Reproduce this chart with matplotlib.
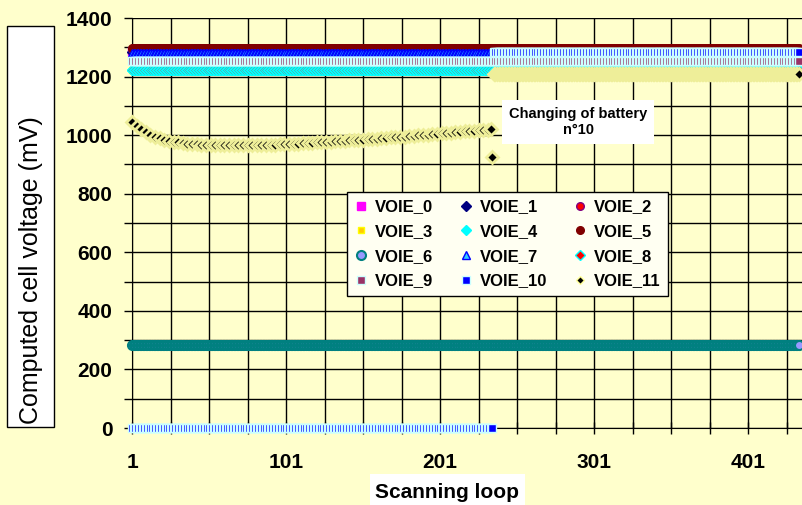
import numpy as np
import matplotlib
matplotlib.use("Agg")
import matplotlib.pyplot as plt
from matplotlib.patches import Rectangle

plt.rcParams['font.family'] = ['Liberation Sans', 'DejaVu Sans']

# ---- data ----
n_loops = 434            # scanning loops shown
change_loop = 235        # last loop before battery n°10 was changed

series_names = ["VOIE_0", "VOIE_1", "VOIE_2", "VOIE_3", "VOIE_4", "VOIE_5",
                "VOIE_6", "VOIE_7", "VOIE_8", "VOIE_9", "VOIE_10", "VOIE_11"]

# cells that stay flat over the whole run (mV)
flat_levels = {
    "VOIE_0": 1288, "VOIE_1": 1284, "VOIE_2": 1294, "VOIE_3": 1222,
    "VOIE_4": 1222, "VOIE_5": 1298, "VOIE_6": 285, "VOIE_7": 1282,
    "VOIE_8": 1224, "VOIE_9": 1253,
}

# VOIE_10: missing before the change, then the new battery
voie10_before = 0
voie10_after = 1284

# VOIE_11: drifting cell, read every 3 loops from loop 1 to 232
voie11_curve = [1045, 1032, 1020, 1010, 1002, 995, 989, 984, 980, 977,
                975, 973, 971, 970, 969, 968, 967, 967, 966, 966,
                966, 966, 966, 966, 966, 966, 966, 967, 967, 967,
                968, 968, 969, 969, 970, 971, 971, 972, 973, 974,
                975, 976, 977, 978, 979, 980, 981, 982, 983, 984,
                985, 986, 987, 988, 989, 990, 992, 993, 994, 995,
                997, 998, 999, 1000, 1002, 1003, 1004, 1006, 1007, 1009,
                1010, 1011, 1013, 1014, 1015, 1016, 1018, 1019]
voie11_tail_loops = [234, 235]
voie11_tail = [1020, 925]
voie11_after = 1210

# marker styles (marker, face, edge, size, edge width)
styles = {
    "VOIE_0": ("s", "#FF00FF", "#FF00FF", 5.5, 1.0),
    "VOIE_1": ("D", "#000080", "#000080", 5.0, 1.0),
    "VOIE_2": ("o", "#FF0000", "#800080", 5.5, 1.0),
    "VOIE_3": ("s", "#FFCC00", "#FFFF00", 5.0, 1.0),
    "VOIE_4": ("D", "#00FFFF", "#00FFFF", 5.0, 1.0),
    "VOIE_5": ("o", "#800000", "#800000", 5.5, 1.0),
    "VOIE_6": ("o", "#9999FF", "#008080", 6.5, 1.5),
    "VOIE_7": ("^", "#33CCFF", "#0000FF", 6.0, 1.0),
    "VOIE_8": ("D", "#FF0000", "#00FFFF", 5.0, 1.0),
    "VOIE_9": ("s", "#993366", "#CCFFFF", 5.5, 1.0),
    "VOIE_10": ("s", "#0000FF", "#CCFFFF", 5.5, 1.0),
    "VOIE_11": ("D", "#000000", "#EEEE99", 6.5, 2.0),
}

bg = "#FFFFCC"
W, H = 802, 505

fig = plt.figure(figsize=(W / 100, H / 100), dpi=100, facecolor=bg)
ax = fig.add_axes([132 / W, (H - 428) / H, (W - 132) / W, 410 / H])
ax.set_facecolor(bg)

loops = np.arange(1, n_loops + 1)
handles = {}
for z, name in enumerate(series_names):
    mk, fc, ec, ms, mew = styles[name]
    kw = dict(linestyle="none", marker=mk, markerfacecolor=fc, markeredgecolor=ec,
              markersize=ms, markeredgewidth=mew, clip_on=False, zorder=3 + z * 0.1)
    if name in flat_levels:
        h, = ax.plot(loops, np.full(n_loops, flat_levels[name]), **kw)
    elif name == "VOIE_10":
        before = loops[loops <= change_loop]
        after = loops[loops > change_loop]
        h, = ax.plot(before, np.full(len(before), voie10_before), **kw)
        ax.plot(after, np.full(len(after), voie10_after), **kw)
    else:
        curve_loops = 1 + 3 * np.arange(len(voie11_curve))
        after = loops[loops > change_loop]
        ax.plot(curve_loops, voie11_curve, **kw)
        ax.plot(voie11_tail_loops, voie11_tail, **kw)
        ax.plot(after, np.full(len(after), voie11_after), **kw)
        # legend shows the small black diamond with a thin yellow rim
        h, = ax.plot([], [], linestyle="none", marker="D", markerfacecolor="#000000",
                     markeredgecolor="#FFFF99", markersize=4.5, markeredgewidth=1.0)
    handles[name] = h

ax.set_xlim(1, 1 + (W - 132) / 1.54)
ax.set_ylim(0, 1400)

ax.set_yticks(np.arange(0, 1401, 200))
ax.set_yticks(np.arange(100, 1400, 200), minor=True)
ax.set_xticks([1, 101, 201, 301, 401])
ax.set_xticks(np.arange(1, 440, 25), minor=True)
ax.grid(True, which="both", color="black", linewidth=1.0, zorder=1)
ax.set_axisbelow(True)

ax.tick_params(axis="y", which="both", direction="out", length=6, width=1, pad=8,
               labelsize=15)
ax.tick_params(axis="x", which="both", direction="inout", length=8, width=1, pad=14,
               labelsize=15)
for lab in ax.get_xticklabels() + ax.get_yticklabels():
    lab.set_fontweight("bold")

for side in ["top", "right"]:
    ax.spines[side].set_visible(False)
ax.spines["left"].set_color("black")
ax.spines["bottom"].set_color("black")

# legend filled row by row like the original
order = [0, 3, 6, 9, 1, 4, 7, 10, 2, 5, 8, 11]
leg = ax.legend([handles[series_names[i]] for i in order],
                [series_names[i] for i in order],
                ncol=3, loc="upper left",
                bbox_to_anchor=(347 / W, 1 - 192 / H), bbox_transform=fig.transFigure,
                prop={"weight": "bold", "size": 12}, frameon=True, fancybox=False,
                edgecolor="black", facecolor="#FFFFF2", framealpha=1,
                handlelength=0.8, handletextpad=0.4, columnspacing=1.6,
                labelspacing=0.58, borderpad=0.45, borderaxespad=0)
leg.get_frame().set_linewidth(1.0)
leg.set_zorder(10)

# annotation box
fig.text(578 / W, 1 - 122 / H, "Changing of battery\nn°10", ha="center", va="center",
         fontsize=10.5, fontweight="bold", linespacing=1.25,
         bbox=dict(boxstyle="square,pad=0.45", facecolor="white", edgecolor="none"),
         zorder=11)

# y axis title in a framed box
fig.patches.append(Rectangle((7 / W, 1 - 427 / H), 47 / W, 401 / H,
                             transform=fig.transFigure, facecolor="white",
                             edgecolor="black", linewidth=1.0))
fig.text(31 / W, (H - 424) / H, "Computed cell voltage (mV)", rotation=90,
         ha="center", va="bottom", fontsize=18)

# x axis title
fig.patches.append(Rectangle((370 / W, 0), 155 / W, 31 / H,
                             transform=fig.transFigure, facecolor="white",
                             edgecolor="none"))
fig.text(447 / W, 1 - 493 / H, "Scanning loop", ha="center", va="center",
         fontsize=15, fontweight="bold")

plt.savefig("out.png", dpi=100, facecolor=bg)
plt.close()
